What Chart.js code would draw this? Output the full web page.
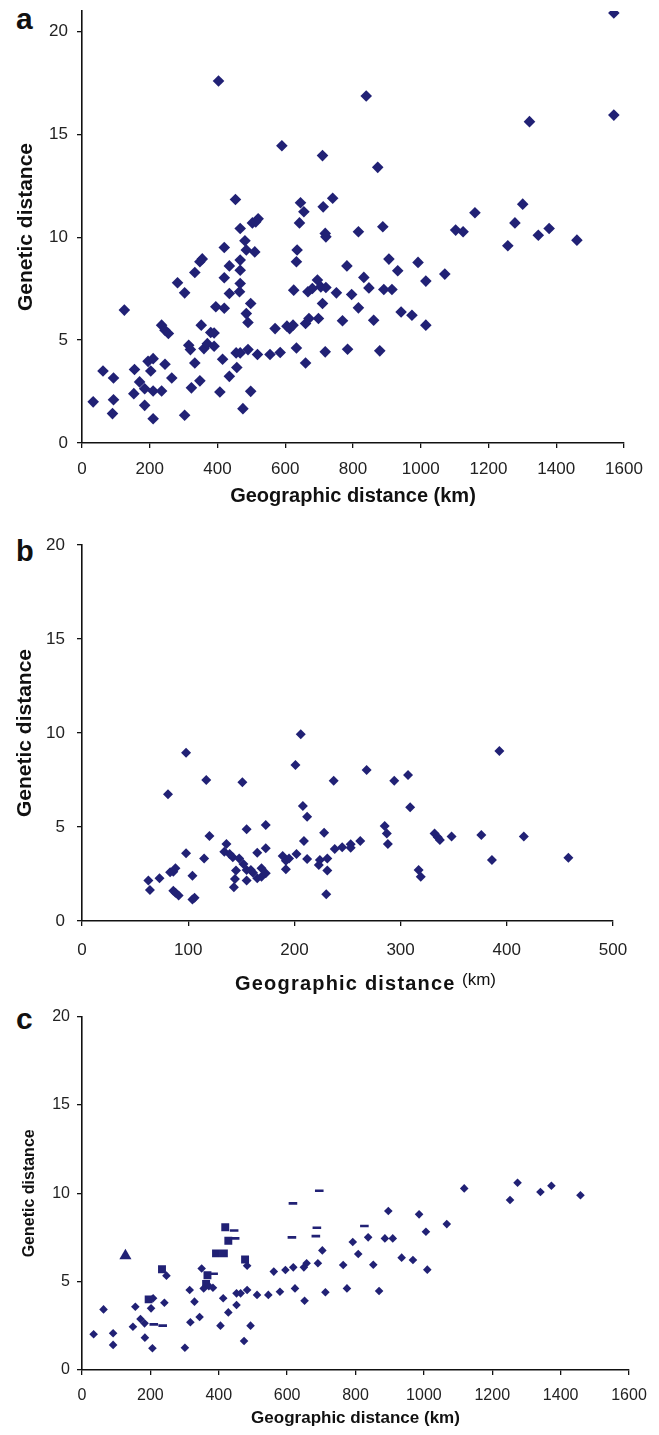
<!DOCTYPE html>
<html>
<head>
<meta charset="utf-8">
<script src="https://cdn.jsdelivr.net/npm/chart.js@4.4.0/dist/chart.umd.min.js"></script>
<style>
  html, body { margin: 0; padding: 0; background: #fff; }
  body { width: 659px; height: 1435px; position: relative; overflow: hidden; font-family: "Liberation Sans", Arial, sans-serif; }
  canvas { position: absolute; left: 0; }
  .lbl { position: absolute; left: 16px; font-weight: bold; line-height: 30px; font-size: 30px; color: #111; }
  .btitle { position: absolute; white-space: nowrap; color: #111; }
</style>
</head>
<body>
<div class="lbl" style="top:4px">a</div>
<div class="lbl" style="top:536px;font-size:29px">b</div>
<div class="lbl" style="top:1004px">c</div>

<canvas id="chartA" width="659" height="520" style="top:0"></canvas>
<canvas id="chartB" width="659" height="480" style="top:520px"></canvas>
<canvas id="chartC" width="659" height="435" style="top:1000px"></canvas>

<div class="btitle" style="left:235px;top:973px;font-size:20px;line-height:20px;font-weight:bold;letter-spacing:1.2px">Geographic distance</div>
<div class="btitle" style="left:462px;top:971px;font-size:17px;line-height:17px">(km)</div>

<script>
const FONT = '"Liberation Sans", Arial, sans-serif';
const INK = "#212175";

// ── a: all pairs ──
const aGeo = [33, 62, 93, 93, 90, 125, 155, 153, 170, 185, 185, 195, 210, 203, 210, 210, 235, 245, 235, 245,
  255, 265, 282, 303, 303, 315, 320, 323, 333, 333, 348, 355, 352, 348, 360, 370, 380, 390, 390, 395,
  403, 420, 420, 420, 415, 407, 435, 435, 435, 453, 467, 467, 467, 467, 465, 455, 457, 467, 475, 481,
  485, 485, 490, 490, 498, 498, 503, 510, 513, 520, 518, 555, 570, 585, 590, 605, 613, 623, 625, 633,
  635, 633, 642, 645, 655, 660, 660, 667, 670, 680, 695, 698, 705, 710, 712, 710, 718, 718, 720, 720,
  740, 782, 751, 796, 769, 784, 816, 839, 832, 847, 816, 861, 873, 879, 888, 906, 932, 891, 915, 942,
  974, 992, 1015, 1015, 1071, 1103, 1125, 1160, 1257, 1278, 1301, 1321, 1347, 1379, 1461, 1570, 1570];
const aGen = [2.0, 3.5, 3.16, 2.1, 1.43, 6.46, 3.57, 2.4, 2.97, 2.64, 1.83, 3.97, 4.1, 3.5, 2.53, 1.18, 2.53, 3.83, 5.73, 5.48,
  5.32, 3.16, 7.79, 7.3, 1.35, 4.75, 4.54, 2.68, 3.89, 8.29, 8.81, 8.95, 5.73, 3.02, 4.59, 4.83, 5.37, 5.35, 4.7, 6.62,
  17.6, 9.5, 8.03, 6.55, 4.07, 2.48, 8.61, 7.27, 3.24, 11.84, 10.43, 8.89, 8.4, 7.75, 7.35, 4.38, 3.67, 4.38, 1.67, 9.83,
  9.38, 6.29, 5.86, 4.54, 6.78, 2.51, 10.7, 9.29, 10.75, 10.9, 4.3, 4.3, 5.56, 4.4, 14.45, 5.68, 5.56, 5.73, 7.43, 4.62,
  9.38, 8.81, 10.7, 11.68, 11.24, 3.89, 5.81, 7.35, 6.05, 7.51, 7.92, 6.05, 7.59, 13.97, 11.48, 6.78, 4.43, 10.19, 10.02, 7.56,
  11.9, 8.61, 7.3, 7.22, 5.94, 4.56, 10.27, 16.87, 8.05, 7.54, 6.57, 5.97, 13.4, 4.48, 10.51, 8.94, 8.37, 7.46, 7.46, 6.37,
  6.21, 8.78, 7.87, 5.73, 8.21, 10.35, 10.27, 11.19, 9.59, 10.7, 11.61, 15.62, 10.1, 10.43, 9.86, 20.9, 15.94];

// ── b: short distances ──
const bGeo = [62.5, 64, 73, 81, 83, 86, 88, 86, 88, 91, 98, 98, 104, 104, 106, 115, 117, 120, 136, 134,
  139, 142, 145, 144, 143, 148, 151, 155, 152, 155, 155, 159, 161, 165, 165, 169, 169, 173, 173, 173,
  189, 192, 192, 195, 201, 202, 206, 208, 212, 209, 212, 223, 224, 228, 231, 231, 230, 237, 238, 245,
  253, 253, 262, 268, 285, 287, 288, 294, 307, 309, 317, 319, 332, 335, 337, 348, 376, 393, 386, 416, 458];
const bGen = [2.15, 1.65, 2.27, 6.74, 2.59, 2.62, 2.8, 1.61, 1.5, 1.35, 8.95, 3.6, 2.41, 1.15, 1.24, 3.33, 7.5, 4.52, 4.1, 3.69,
  3.56, 3.39, 2.68, 2.23, 1.79, 3.33, 7.38, 4.88, 3.03, 2.71, 2.15, 2.71, 2.57, 3.63, 2.27, 2.36, 2.8, 2.54, 5.11, 3.87,
  3.46, 3.21, 2.75, 3.33, 8.3, 3.56, 9.93, 6.12, 5.55, 4.26, 3.3, 2.98, 3.24, 4.7, 3.33, 2.68, 1.42, 7.46, 3.83, 3.92,
  4.08, 3.9, 4.26, 8.03, 5.05, 4.66, 4.1, 7.46, 7.77, 6.05, 2.71, 2.36, 4.66, 4.45, 4.31, 4.49, 4.57, 9.04, 3.24, 4.49, 3.37];

// ── c: diamonds, squares, dashes, triangle ──
const cGeo = [34, 63, 91, 91, 156, 149, 171, 183, 184, 202, 208, 206, 241, 247, 301, 315, 329, 317, 344, 350,
  356, 371, 383, 405, 413, 428, 452, 452, 464, 474, 483, 483, 493, 512, 545, 561, 579, 595, 618, 623,
  649, 657, 651, 690, 703, 712, 764, 775, 792, 808, 837, 852, 869, 886, 896, 909, 935, 968, 986, 1006,
  1010, 1067, 1118, 1252, 1274, 1341, 1373, 1458];
const cGen = [2.02, 3.43, 2.08, 1.42, 3.58, 2.45, 2.89, 2.64, 1.83, 3.49, 4.06, 1.23, 3.81, 5.34, 1.26, 4.53, 3.87, 2.7, 3.0, 5.75,
  4.62, 4.75, 4.66, 2.51, 4.06, 3.26, 3.68, 4.34, 4.34, 1.64, 4.53, 5.9, 2.51, 4.25, 4.25, 5.57, 4.43, 5.66, 5.81, 4.62,
  5.81, 6.04, 3.92, 6.04, 6.77, 4.4, 5.94, 4.62, 7.25, 6.57, 7.51, 5.96, 4.47, 7.45, 9.0, 7.45, 6.36, 6.23, 8.81, 7.83,
  5.68, 8.26, 10.28, 9.62, 10.6, 10.08, 10.43, 9.89];
const cSqGeo = [195, 234, 363, 367, 392, 415, 419, 428, 477];
const cSqGen = [4.0, 5.7, 4.87, 5.36, 6.6, 6.6, 8.08, 7.32, 6.26];
const cDashGeo = [210, 236, 385, 445, 448, 617, 614, 694, 687, 684, 826];
const cDashGen = [2.58, 2.51, 5.45, 7.9, 7.45, 9.43, 7.51, 10.15, 8.05, 7.58, 8.15];
const cTriGeo = [127];
const cTriGen = [6.47];

function pts(xs, ys) {
  return xs.map((x, i) => ({ x, y: ys[i] }));
}

function marks(xs, ys, style, r, extra) {
  return Object.assign({
    data: pts(xs, ys),
    pointStyle: style,
    pointRadius: r,
    backgroundColor: INK,
    borderColor: INK,
    borderWidth: 0
  }, extra || {});
}

// one panel; chart area goes from o.top to o.bottom, y axis line at 82px
function panel(id, o) {
  const canvas = document.getElementById(id);
  const H = canvas.height;
  return new Chart(canvas, {
    type: "scatter",
    data: { datasets: o.datasets },
    options: {
      responsive: false,
      animation: false,
      events: [],
      layout: { padding: { left: 0, top: o.top, right: o.right, bottom: 0 } },
      plugins: { legend: { display: false }, tooltip: { enabled: false } },
      scales: {
        x: {
          type: "linear",
          min: 0, max: o.xMax,
          ticks: { stepSize: o.xStep, padding: o.xPad, color: "#222", maxRotation: 0,
                   font: { family: FONT, size: o.tick }, callback: v => String(v) },
          grid: { drawOnChartArea: false, tickLength: 5, color: "#111", lineWidth: 1.3 },
          border: { color: "#111", width: 1.6 },
          title: o.xTitle
            ? { display: true, text: o.xTitle, color: "#111",
                font: { family: FONT, size: o.xTitleSize, weight: "bold" },
                padding: { top: 0, bottom: o.xTitlePad } }
            : { display: false },
          afterFit: s => { s.height = H - o.bottom; s.paddingLeft = 0; s.paddingRight = 0; }
        },
        y: {
          type: "linear",
          min: 0, max: o.yMax,
          ticks: { stepSize: 5, padding: o.yPad, color: "#222",
                   font: { family: FONT, size: o.tick }, callback: v => String(v) },
          afterBuildTicks: s => { s.ticks = s.ticks.filter(t => t.value % 5 === 0); },
          grid: { drawOnChartArea: false, tickLength: 5, color: "#111", lineWidth: 1.3 },
          border: { color: "#111", width: 1.6 },
          title: { display: true, text: "Genetic distance", color: "#111",
                   font: { family: FONT, size: o.yTitleSize, weight: "bold" },
                   padding: { top: o.yTitlePad, bottom: 0 } },
          afterFit: s => { s.width = 82; s.paddingTop = 0; s.paddingBottom = 0; }
        }
      }
    }
  });
}

panel("chartA", {
  datasets: [marks(aGeo, aGen, "rectRot", 5.8)],
  top: 11, bottom: 443, right: 35,
  xMax: 1600, xStep: 200, yMax: 21,
  tick: 17, xPad: 10.8, yPad: 9,
  xTitle: "Geographic distance (km)", xTitleSize: 20, xTitlePad: 12,
  yTitleSize: 21, yTitlePad: 14
});

panel("chartB", {
  datasets: [marks(bGeo, bGen, "rectRot", 5)],
  top: 25, bottom: 401, right: 46,
  xMax: 500, xStep: 100, yMax: 20,
  tick: 17, xPad: 13.8, yPad: 12,
  xTitle: null,
  yTitleSize: 21, yTitlePad: 12.4
});

panel("chartC", {
  datasets: [
    marks(cGeo, cGen, "rectRot", 4.3),
    marks(cSqGeo, cSqGen, "rect", 5.6),
    marks(cDashGeo, cDashGen, "line", 4.3, { borderWidth: 2.6 }),
    marks(cTriGeo, cTriGen, "triangle", 7)
  ],
  top: 16.7, bottom: 370, right: 30,
  xMax: 1600, xStep: 200, yMax: 20,
  tick: 16, xPad: 11.4, yPad: 7,
  xTitle: "Geographic distance (km)", xTitleSize: 17, xTitlePad: 6.8,
  yTitleSize: 16, yTitlePad: 20.4
});
</script>
</body>
</html>
